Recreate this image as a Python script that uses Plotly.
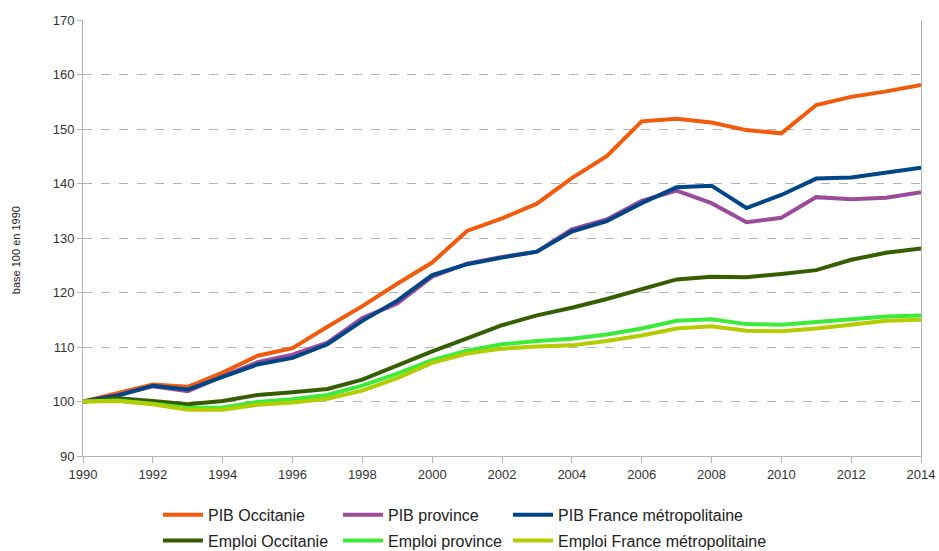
import plotly.graph_objects as go

years = list(range(1990, 2015))

pib_occitanie = [100, 101.5, 103.1, 102.7, 105.3, 108.4, 109.8, 113.7, 117.5, 121.6, 125.5,
                 131.3, 133.6, 136.3, 141.0, 145.0, 151.4, 151.9, 151.2, 149.8, 149.2,
                 154.4, 155.9, 156.9, 158.1]
pib_province = [100, 101.2, 102.8, 101.9, 104.6, 107.2, 108.6, 110.8, 115.3, 118.0, 122.9,
                125.3, 126.5, 127.5, 131.6, 133.4, 136.8, 138.7, 136.4, 132.9, 133.7,
                137.5, 137.1, 137.4, 138.4]
pib_france = [100, 101.1, 102.9, 102.2, 104.5, 106.8, 108.0, 110.5, 114.8, 118.5, 123.2,
              125.2, 126.4, 127.5, 131.2, 133.1, 136.4, 139.3, 139.6, 135.5, 137.9,
              140.9, 141.1, 142.0, 142.9]
emploi_occitanie = [100, 100.6, 100.1, 99.5, 100.1, 101.2, 101.7, 102.3, 104.0, 106.7, 109.2,
                    111.6, 114.0, 115.8, 117.2, 118.8, 120.6, 122.4, 122.9, 122.8, 123.4,
                    124.1, 126.0, 127.3, 128.1]
emploi_province = [100, 100.2, 99.6, 98.8, 98.9, 99.9, 100.4, 101.2, 102.9, 105.1, 107.6,
                   109.3, 110.5, 111.1, 111.5, 112.3, 113.4, 114.8, 115.1, 114.2, 114.1,
                   114.6, 115.1, 115.6, 115.8]
emploi_france = [100, 100.1, 99.5, 98.5, 98.5, 99.4, 99.8, 100.5, 102.0, 104.3, 107.1,
                 108.8, 109.7, 110.1, 110.3, 111.1, 112.1, 113.4, 113.8, 113.0, 112.9,
                 113.4, 114.1, 114.8, 115.0]

# (name, values, colour, legend column)
series = [
    ("PIB Occitanie", pib_occitanie, "#F25A0C", "legend"),
    ("PIB province", pib_province, "#9A4C9A", "legend2"),
    ("PIB France métropolitaine", pib_france, "#004586", "legend3"),
    ("Emploi Occitanie", emploi_occitanie, "#355E00", "legend"),
    ("Emploi province", emploi_province, "#3CEA3C", "legend2"),
    ("Emploi France métropolitaine", emploi_france, "#B4CC00", "legend3"),
]

fig = go.Figure()
for name, vals, color, leg in series:
    fig.add_trace(go.Scatter(x=years, y=vals, name=name, mode="lines",
                             line=dict(color=color, width=4), legend=leg,
                             legendgroup=name))

grid = "#b3b3b3"
leg_common = dict(orientation="v", yref="container", y=0.0966, yanchor="top",
                  xanchor="left", font=dict(size=16, color="#222222"),
                  bgcolor="rgba(0,0,0,0)", tracegroupgap=2, traceorder="grouped",
                  itemwidth=40)

fig.update_layout(
    width=939, height=551,
    margin=dict(l=83, r=18, t=20, b=95),
    plot_bgcolor="white", paper_bgcolor="white",
    font=dict(family="Liberation Sans, Arial, sans-serif", size=13, color="#333333"),
    showlegend=True,
    legend=dict(x=0.0895, **leg_common),
    legend2=dict(x=0.3043, **leg_common),
    legend3=dict(x=0.5072, **leg_common),
    xaxis=dict(range=[1990, 2014], tick0=1990, dtick=2, showgrid=False,
               showline=True, linecolor=grid, linewidth=1, automargin=False,
               ticks="outside", ticklen=6, tickcolor=grid, zeroline=False),
    yaxis=dict(range=[90, 170], dtick=10, showgrid=True, gridcolor=grid, griddash="dash",
               gridwidth=1, showline=True, linecolor=grid, linewidth=1, mirror=True,
               automargin=False,
               ticks="outside", ticklen=5, tickcolor=grid, zeroline=False),
)

fig.add_annotation(text="base 100 en 1990", xref="paper", yref="paper",
                   x=-0.08, xanchor="center", y=0.472, yanchor="middle",
                   textangle=-90, showarrow=False,
                   font=dict(size=11, color="#222222"))

fig.write_html("out.html",
               config={"displayModeBar": False},
               post_script="document.body.style.margin='0';document.body.style.overflow='hidden';")
